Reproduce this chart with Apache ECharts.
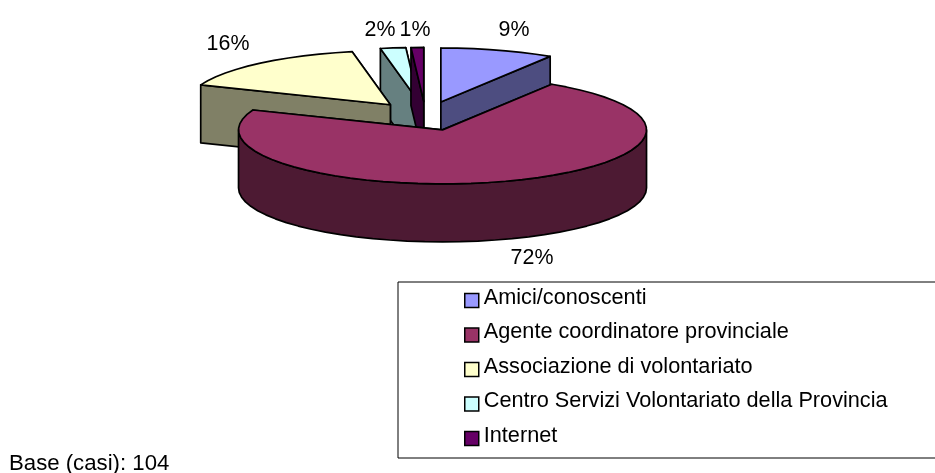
<!DOCTYPE html>
<html><head><meta charset="utf-8">
<style>html,body{margin:0;padding:0;background:#fff}#c{width:935px;height:473px}</style>
<script src="https://cdn.jsdelivr.net/npm/echarts@6/dist/echarts.min.js"></script>
</head><body><div id="c"></div>
<script>
const categories = ['Amici/conoscenti','Agente coordinatore provinciale','Associazione di volontariato','Centro Servizi Volontariato della Provincia','Internet'];
const values = [9,72,16,2,1];
const topColors = ['#9999FF','#993366','#FFFFCC','#CCFFFF','#660066'];
const sideColors = ['#4D4D80','#4D1A33','#808066','#668080','#330033'];
const baseNote = 'Base (casi): 104';

// pie projection
const layout = {cx:425.5, cy:116, rx:204, ry:54, depth:58, explode:0.27, step:5};
const labelPos = [[514,30],[532,258],[228,44.5],[380,30],[415,30]];
const FONT = '"Liberation Sans", Arial, sans-serif';
const FS = 21.7;

const total = values.reduce((a,b)=>a+b,0);
const rad = p => p/total*Math.PI*2;
let acc = 0;
const slices = values.map(v=>{const s=rad(acc); acc+=v; const e=rad(acc); return {s,e,m:(s+e)/2};});

function renderSlice(i){
  const {s,e,m} = slices[i];
  const L = layout;
  const ax = L.cx + L.explode*L.rx*Math.sin(m);
  const ay = L.cy - L.explode*L.ry*Math.cos(m);
  const P = t => [ax+L.rx*Math.sin(t), ay-L.ry*Math.cos(t)];
  const down = p => [p[0],p[1]+L.depth];
  const st = {stroke:'#000',lineWidth:1.7,lineJoin:'round'};
  const poly = (pts,fill)=>({type:'polygon',shape:{points:pts},style:Object.assign({fill},st)});
  const arc = (a,b)=>{const n=Math.max(1,Math.ceil((b-a)/(L.step*Math.PI/180)));const r=[];for(let k=0;k<=n;k++)r.push(P(a+(b-a)*k/n));return r;};
  const A=[ax,ay], ps=P(s), pe=P(e);
  const faces=[[ps],[pe]].map(f=>({y:f[0][1],el:poly([A,f[0],down(f[0]),down(A)],sideColors[i])}));
  faces.sort((a,b)=>a.y-b.y);
  const children=faces.map(f=>f.el);
  const rs=Math.max(s,Math.PI/2), re=Math.min(e,Math.PI*1.5);
  if(re>rs){const r=arc(rs,re);children.push(poly(r.concat(r.map(down).reverse()),sideColors[i]));}
  children.push(poly([A].concat(arc(s,e)),topColors[i]));
  children.push({type:'text',style:{text:values[i]+'%',x:labelPos[i][0],y:labelPos[i][1],align:'center',verticalAlign:'middle',fill:'#000',font:'21.4px '+FONT}});
  return {type:'group',children};
}

const series = categories.map((name,i)=>({
  type:'custom', name, coordinateSystem:'none', silent:true, animation:false,
  z: 5+Math.round(-Math.cos(slices[i].m)*50)+50,
  itemStyle:{color:topColors[i]},
  data:[[values[i]]],
  renderItem:()=>renderSlice(i)
}));

const chart = echarts.init(document.getElementById('c'),null,{renderer:'canvas'});
chart.setOption({
  animation:false, backgroundColor:'#fff',
  title:{text:baseNote,left:9,top:453,padding:0,textStyle:{fontFamily:FONT,fontSize:22.2,fontWeight:'normal',color:'#000'}},
  legend:{
    orient:'vertical',left:398,top:282,icon:'rect',itemWidth:14,itemHeight:14,itemGap:7.5,
    padding:[5,60,6,66],borderColor:'#000',borderWidth:1,backgroundColor:'#fff',
    selectedMode:false,
    itemStyle:{borderColor:'#000',borderWidth:1.5},
    formatter:n=>'{a|'+n+'}',
    textStyle:{rich:{a:{fontFamily:FONT,fontSize:FS,lineHeight:22,color:'#000',padding:[0,0,5,0]}}},
    data:categories
  },
  series
});
</script></body></html>
